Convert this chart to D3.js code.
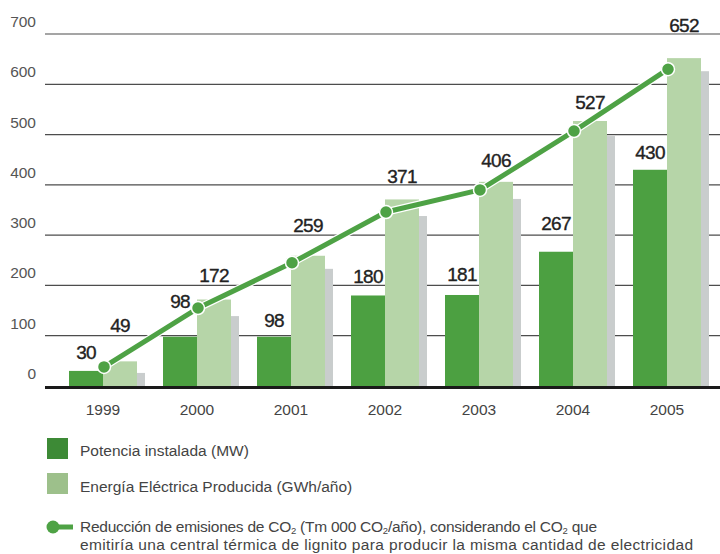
<!DOCTYPE html>
<html>
<head>
<meta charset="utf-8">
<script src="https://cdn.jsdelivr.net/npm/d3@7"></script>
<style>
  body { margin: 0; background: #fff; }
  svg { display: block; font-family: "Liberation Sans", Arial, sans-serif; }
</style>
</head>
<body>
<svg id="chart" width="720" height="554"></svg>
<script>
// data
const years = ["1999", "2000", "2001", "2002", "2003", "2004", "2005"];
const potencia = [30, 98, 98, 180, 181, 267, 430];        // MW
const energia = [49, 172, 259, 371, 406, 527, 652];       // GWh/año
const sombra = [26, 139, 233, 338, 372, 497, 626];        // grey back bars
const reduccion = [38, 155, 245, 346, 390, 507, 630];     // Tm 000 CO2/año
const yTicks = [0, 100, 200, 300, 400, 500, 600, 700];

// extra lift of the value labels (layout only)
const liftPot = [0, 17, -2, 0, 2, 10, -1];
const liftEne = [17, 6, 12, 4, 3, 0, 14];

const colDark = "#4ca041", colLight = "#b6d5a8", colGrey = "#c9cdcd";
const colLine = "#4ea245";

const svg = d3.select("#chart");

const x = d3.scaleBand().domain(years).range([69, 69 + 94 * 7]);
const y = d3.scaleLinear().domain([0, 700]).range([386, 34]);
const barW = 34;

// gridlines
svg.append("g")
  .selectAll("line")
  .data(yTicks.filter(d => d > 0))
  .join("line")
  .attr("x1", 45).attr("x2", 720)
  .attr("y1", d => y(d)).attr("y2", d => y(d))
  .attr("stroke", "#4d4d4d")
  .attr("stroke-width", 1.2);

// y labels
svg.append("g")
  .selectAll("text")
  .data(yTicks)
  .join("text")
  .attr("x", 36)
  .attr("y", d => y(d) - 7)
  .attr("text-anchor", "end")
  .attr("font-size", 15.5)
  .attr("fill", "#555")
  .text(d => d);

// bars
const g = svg.append("g");
g.selectAll(".grey")
  .data(years)
  .join("rect")
  .attr("x", d => x(d) + 42)
  .attr("y", (d, i) => y(sombra[i]))
  .attr("width", barW)
  .attr("height", (d, i) => y(0) - y(sombra[i]))
  .attr("fill", colGrey);

g.selectAll(".light")
  .data(years)
  .join("rect")
  .attr("x", d => x(d) + barW)
  .attr("y", (d, i) => y(energia[i]))
  .attr("width", barW)
  .attr("height", (d, i) => y(0) - y(energia[i]))
  .attr("fill", colLight);

g.selectAll(".dark")
  .data(years)
  .join("rect")
  .attr("x", d => x(d))
  .attr("y", (d, i) => y(potencia[i]))
  .attr("width", barW)
  .attr("height", (d, i) => y(0) - y(potencia[i]))
  .attr("fill", colDark);

// baseline
svg.append("line")
  .attr("x1", 45).attr("x2", 720)
  .attr("y1", y(0) + 1.5).attr("y2", y(0) + 1.5)
  .attr("stroke", "#1a1a1a")
  .attr("stroke-width", 3);

// category labels
svg.append("g")
  .selectAll("text")
  .data(years)
  .join("text")
  .attr("x", d => x(d) + barW)
  .attr("y", 415)
  .attr("text-anchor", "middle")
  .attr("font-size", 15.5)
  .attr("fill", "#444")
  .text(d => d);

// CO2 line
const pts = years.map((d, i) => [x(d) + barW + 1, y(reduccion[i])]);
const line = d3.line();
svg.append("path")
  .attr("d", line(pts))
  .attr("fill", "none")
  .attr("stroke", "#fff")
  .attr("stroke-width", 7.5)
  .attr("stroke-linejoin", "round");
svg.append("path")
  .attr("d", line(pts))
  .attr("fill", "none")
  .attr("stroke", colLine)
  .attr("stroke-width", 5)
  .attr("stroke-linejoin", "round");
svg.append("g")
  .selectAll("circle")
  .data(pts)
  .join("circle")
  .attr("cx", d => d[0])
  .attr("cy", d => d[1])
  .attr("r", 6.5)
  .attr("fill", colLine)
  .attr("stroke", "#fff")
  .attr("stroke-width", 1.5);

// value labels
const labelStyle = sel => sel
  .attr("text-anchor", "middle")
  .attr("font-size", 19)
  .attr("letter-spacing", -0.8)
  .attr("fill", "#222")
  .attr("stroke", "#222")
  .attr("stroke-width", 0.35);

svg.append("g")
  .selectAll("text")
  .data(years)
  .join("text")
  .attr("x", d => x(d) + barW / 2)
  .attr("y", (d, i) => y(potencia[i]) - 12 - liftPot[i])
  .call(labelStyle)
  .text((d, i) => potencia[i]);

svg.append("g")
  .selectAll("text")
  .data(years)
  .join("text")
  .attr("x", d => x(d) + barW * 1.5)
  .attr("y", (d, i) => y(energia[i]) - 12 - liftEne[i])
  .call(labelStyle)
  .text((d, i) => energia[i]);

// legend
const leg = svg.append("g").attr("font-size", 15.5).attr("fill", "#444");
leg.append("rect").attr("x", 47).attr("y", 438).attr("width", 21).attr("height", 21).attr("fill", "#3d8a36");
leg.append("text").attr("x", 80).attr("y", 456).text("Potencia instalada (MW)");
leg.append("rect").attr("x", 47).attr("y", 473).attr("width", 21).attr("height", 21).attr("fill", "#9dc08b");
leg.append("text").attr("x", 80).attr("y", 492).text("Energía Eléctrica Producida (GWh/año)");

leg.append("line")
  .attr("x1", 53).attr("x2", 73).attr("y1", 527).attr("y2", 527)
  .attr("stroke", colLine).attr("stroke-width", 5);
leg.append("circle").attr("cx", 53).attr("cy", 527).attr("r", 6.5).attr("fill", colLine);

const t1 = leg.append("text").attr("x", 80).attr("y", 532).attr("letter-spacing", -0.25);
t1.append("tspan").text("Reducción de emisiones de CO");
t1.append("tspan").attr("font-size", 9.5).attr("dy", 2).text("2");
t1.append("tspan").attr("dy", -2).text(" (Tm 000 CO");
t1.append("tspan").attr("font-size", 9.5).attr("dy", 2).text("2");
t1.append("tspan").attr("dy", -2).text("/año), considerando el CO");
t1.append("tspan").attr("font-size", 9.5).attr("dy", 2).text("2");
t1.append("tspan").attr("dy", -2).text(" que");
leg.append("text").attr("x", 80).attr("y", 550)
  .attr("textLength", 613)
  .text("emitiría una central térmica de lignito para producir la misma cantidad de electricidad");
</script>
</body>
</html>
